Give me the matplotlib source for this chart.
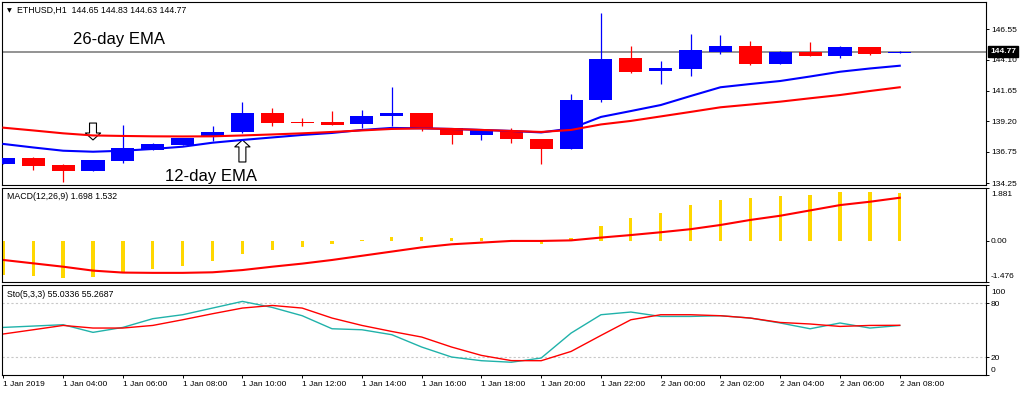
import matplotlib
matplotlib.use("Agg")
import matplotlib.pyplot as plt
import matplotlib.transforms as mtransforms
import numpy as np

plt.rcParams['font.family'] = ['Liberation Sans', 'DejaVu Sans']

# ETHUSD H1, свечи
opens = [135.79, 136.30, 135.74, 135.26, 136.01, 136.91, 137.33, 137.97, 138.32, 139.89,
         139.10, 139.11, 138.95, 139.65, 139.89, 138.64, 138.11, 138.43, 137.76, 136.99,
         140.90, 144.28, 143.22, 143.38, 144.76, 145.24, 143.78, 144.76, 144.44, 145.11, 144.65]
highs = [136.30, 136.32, 135.76, 136.10, 138.91, 137.43, 137.90, 138.83, 140.72, 140.29,
         139.47, 140.02, 140.10, 141.92, 139.90, 138.65, 138.52, 138.69, 137.77, 141.36,
         147.83, 145.24, 144.02, 146.15, 146.10, 145.62, 144.78, 145.56, 145.24, 145.13, 144.83]
lows = [135.75, 135.31, 134.38, 135.24, 135.87, 136.90, 137.30, 137.65, 138.30, 138.83,
        138.83, 138.90, 138.64, 138.83, 138.43, 137.41, 137.71, 137.49, 135.79, 136.95,
        140.72, 143.04, 142.16, 142.82, 144.55, 143.70, 143.76, 144.42, 144.28, 144.50, 144.63]
closes = [136.27, 135.66, 135.26, 136.09, 137.05, 137.41, 137.87, 138.32, 139.89, 139.09,
          139.07, 138.91, 139.65, 139.85, 138.69, 138.11, 138.51, 137.76, 136.99, 140.88,
          144.18, 143.16, 143.44, 144.90, 145.24, 143.78, 144.76, 144.44, 145.11, 144.58, 144.77]

ema12 = [137.39, 137.11, 136.85, 136.77, 136.85, 136.99, 137.17, 137.49, 137.71, 137.91,
         138.11, 138.27, 138.51, 138.67, 138.64, 138.59, 138.51, 138.43, 138.31, 138.63,
         139.55, 140.02, 140.50, 141.22, 141.92, 142.18, 142.42, 142.78, 143.16, 143.42, 143.64]
ema26 = [138.69, 138.47, 138.24, 138.07, 138.03, 138.00, 137.99, 138.00, 138.07, 138.15,
         138.24, 138.35, 138.47, 138.59, 138.63, 138.59, 138.51, 138.43, 138.35, 138.51,
         138.95, 139.23, 139.59, 139.95, 140.32, 140.54, 140.77, 141.04, 141.30, 141.62, 141.92]

macd_main = [-1.22, -1.25, -1.32, -1.29, -1.16, -1.02, -0.89, -0.72, -0.47, -0.33,
             -0.21, -0.13, 0.04, 0.13, 0.13, 0.11, 0.09, 0.01, -0.13, 0.09,
             0.52, 0.80, 0.99, 1.26, 1.45, 1.51, 1.60, 1.63, 1.72, 1.74, 1.698]
macd_signal = [-0.69, -0.81, -0.93, -1.07, -1.14, -1.15, -1.15, -1.13, -1.05, -0.93,
               -0.82, -0.69, -0.54, -0.39, -0.24, -0.13, -0.07, -0.01, -0.01, 0.01,
               0.11, 0.20, 0.30, 0.41, 0.56, 0.74, 0.89, 1.08, 1.27, 1.39, 1.532]

sto_main = [52.9, 54.4, 55.9, 47.4, 52.9, 62.6, 67.0, 74.4, 81.8, 75.1,
            65.9, 51.4, 50.3, 44.8, 31.1, 20.0, 15.9, 14.2, 18.9, 46.6,
            67.0, 70.0, 65.1, 65.1, 65.9, 63.3, 57.8, 51.4, 57.8, 52.2, 55.03]
sto_signal = [45.6, 50.3, 55.1, 52.2, 52.2, 55.1, 61.4, 68.1, 74.4, 77.3,
              74.4, 63.3, 55.1, 48.4, 42.2, 31.1, 21.8, 16.0, 15.9, 26.2,
              44.0, 61.4, 67.0, 67.0, 65.9, 63.3, 58.4, 56.7, 54.0, 55.1, 55.27]

time_labels = ["1 Jan 2019", "1 Jan 04:00", "1 Jan 06:00", "1 Jan 08:00", "1 Jan 10:00",
               "1 Jan 12:00", "1 Jan 14:00", "1 Jan 16:00", "1 Jan 18:00", "1 Jan 20:00",
               "1 Jan 22:00", "2 Jan 00:00", "2 Jan 02:00", "2 Jan 04:00", "2 Jan 06:00",
               "2 Jan 08:00"]
price_ticks = [146.55, 144.10, 141.65, 139.20, 136.75, 134.25]
macd_ticks = [1.881, 0.0, -1.476]
sto_ticks = [100, 80, 20, 0]
last_price = 144.77

x = np.arange(len(closes))
xlim = (-0.044, 32.89)

fig = plt.figure(figsize=(10.24, 3.95), dpi=100)
ax1 = fig.add_axes([0.002, 0.5316, 0.961, 0.4633])
ax2 = fig.add_axes([0.002, 0.2861, 0.961, 0.238])
ax3 = fig.add_axes([0.002, 0.0506, 0.961, 0.2278])

for ax in (ax1, ax2, ax3):
    ax.set_xlim(*xlim)
    ax.yaxis.tick_right()
    ax.tick_params(axis='y', labelsize=6, length=2, pad=1.5, width=0.7)
    for s in ax.spines.values():
        s.set_linewidth(0.8)
        s.set_color('black')
ax1.set_xticks([])
ax2.set_xticks([])


def shift_label(lab, dy_px):
    # сдвиг подписи по вертикали, как в MT4 крайние значения заходят внутрь
    off = mtransforms.ScaledTranslation(0, dy_px / fig.dpi, fig.dpi_scale_trans)
    lab.set_transform(lab.get_transform() + off)


# главная панель
o = np.array(opens)
c = np.array(closes)
cols = np.where(c >= o, 'blue', 'red')
ax1.vlines(x, lows, highs, colors=cols, lw=0.9, zorder=2)
body = np.maximum(np.abs(c - o), 0.06)
ax1.bar(x, body, bottom=np.minimum(o, c), width=0.77, color=cols, lw=0, zorder=3)
ax1.plot(x, ema12, color='blue', lw=1.5, zorder=4)
ax1.plot(x, ema26, color='red', lw=1.5, zorder=4)
ax1.axhline(last_price, color='#808080', lw=1.2, zorder=1)
ax1.set_ylim(134.11, 148.73)
ax1.set_yticks(price_ticks)
ax1.set_yticklabels([f"{v:.2f}" for v in price_ticks])
ax1.annotate(f"{last_price:.2f}", xy=(1, last_price), xycoords=('axes fraction', 'data'),
             xytext=(4, 0), textcoords='offset pixels', va='center', ha='left',
             color='white', fontsize=6, fontweight='bold',
             bbox=dict(boxstyle='square,pad=0.2', fc='black', ec='black'))

ax1.annotate("▼", xy=(0, 1), xycoords='axes fraction', xytext=(5, -9),
             textcoords='offset pixels', fontsize=4.5, va='center', ha='left',
             family=['DejaVu Sans'])
ax1.annotate("ETHUSD,H1  144.65 144.83 144.63 144.77", xy=(0, 1), xycoords='axes fraction',
             xytext=(15, -8), textcoords='offset pixels', fontsize=6.3, va='center', ha='left')

ax1.text(2.33, 145.70, "26-day EMA", fontsize=12, va='center', ha='left')
ax1.text(5.41, 134.83, "12-day EMA", fontsize=12, va='center', ha='left')
arrow_style = dict(arrowstyle='simple,head_length=0.5,head_width=1.1,tail_width=0.5',
                   fc='white', ec='black', lw=0.8, shrinkA=0, shrinkB=0, mutation_scale=10)
ax1.annotate('', xy=(3, 137.71), xytext=(3, 139.06), arrowprops=arrow_style)
ax1.annotate('', xy=(8, 137.71), xytext=(8, 135.95), arrowprops=arrow_style)

# MACD
ax2.bar(x, macd_main, width=0.11, color='#FFD700', lw=0)
ax2.plot(x, macd_signal, color='red', lw=1.5)
ax2.set_ylim(-1.476, 1.881)
ax2.set_yticks(macd_ticks)
ax2.set_yticklabels(["1.881", "0.00", "-1.476"])
labs = ax2.get_yticklabels()
shift_label(labs[0], -6)
shift_label(labs[2], 6)
ax2.annotate("MACD(12,26,9) 1.698 1.532", xy=(0, 1), xycoords='axes fraction',
             xytext=(5, -9), textcoords='offset pixels', fontsize=6.3, va='center', ha='left')

# Stochastic
ax3.axhline(80, color='#c8c8c8', ls=(0, (2, 2)), lw=0.8)
ax3.axhline(20, color='#c8c8c8', ls=(0, (2, 2)), lw=0.8)
ax3.plot(x, sto_main, color='#20B2AA', lw=1.0)
ax3.plot(x, sto_signal, color='red', lw=1.0)
ax3.set_ylim(0, 100)
ax3.set_yticks(sto_ticks)
ax3.set_yticklabels([str(v) for v in sto_ticks])
labs = ax3.get_yticklabels()
shift_label(labs[0], -6)
shift_label(labs[3], 6)
ax3.annotate("Sto(5,3,3) 55.0336 55.2687", xy=(0, 1), xycoords='axes fraction',
             xytext=(5, -9), textcoords='offset pixels', fontsize=6.3, va='center', ha='left')

ax3.set_xticks(x[::2])
ax3.set_xticklabels(time_labels, fontsize=6, ha='left')
ax3.tick_params(axis='x', length=2.5, pad=2, width=0.7)

fig.savefig("out.png", dpi=100, facecolor='white')
